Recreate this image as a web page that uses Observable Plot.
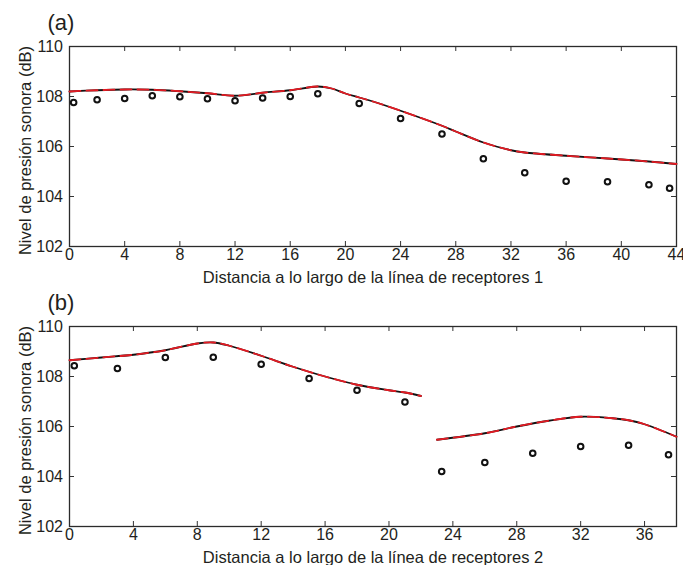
<!DOCTYPE html>
<html>
<head>
<meta charset="utf-8">
<script src="https://cdn.jsdelivr.net/npm/d3@7"></script>
<script src="https://cdn.jsdelivr.net/npm/@observablehq/plot@0.6"></script>
<style>
  body { margin: 0; background: white; }
  #chart { position: relative; width: 683px; height: 565px; background: white; }
  #chart svg { display: block; position: absolute; left: 0; }
</style>
</head>
<body>
<div id="chart"></div>
<script>
// ---- Data ----
const yTicks = [102, 104, 106, 108, 110];
const yLabel = "Nivel de presión sonora (dB)";

// Panel (a)
const xTicksA = [0, 4, 8, 12, 16, 20, 24, 28, 32, 36, 40, 44];
const measXA = [0.3, 2, 4, 6, 8, 10, 12, 14, 16, 18, 21, 24, 27, 30, 33, 36, 39, 42, 43.5];
const measYA = [107.76, 107.87, 107.92, 108.03, 107.99, 107.91, 107.83, 107.94, 108.0, 108.11, 107.72, 107.12, 106.5, 105.51, 104.95, 104.61, 104.59, 104.47, 104.33];
const simXA = [0, 2, 4, 6, 8, 10, 12, 14, 16, 18, 19, 20, 21, 22, 24, 27, 28, 30, 32, 33, 36, 39, 42, 44];
const simYA = [108.2, 108.25, 108.28, 108.27, 108.21, 108.13, 108.03, 108.15, 108.25, 108.4, 108.32, 108.12, 107.96, 107.8, 107.43, 106.83, 106.6, 106.16, 105.85, 105.76, 105.63, 105.52, 105.4, 105.3];

// Panel (b)
const xTicksB = [0, 4, 8, 12, 16, 20, 24, 28, 32, 36];
const measXB = [0.3, 3, 6, 9, 12, 15, 18, 21, 23.3, 26, 29, 32, 35, 37.5];
const measYB = [108.43, 108.32, 108.76, 108.77, 108.49, 107.92, 107.45, 106.98, 104.2, 104.56, 104.93, 105.2, 105.25, 104.87];
const simX1B = [0, 2, 4, 6, 8, 9, 10, 12, 14, 16, 18, 20, 21, 22];
const simY1B = [108.65, 108.76, 108.87, 109.05, 109.32, 109.36, 109.23, 108.83, 108.39, 108.0, 107.67, 107.45, 107.36, 107.22];
const simX2B = [23, 26, 28, 30, 32, 34, 35, 36, 38];
const simY2B = [105.47, 105.73, 106.0, 106.23, 106.39, 106.33, 106.25, 106.09, 105.59];

// ---- Build tables ----
const zip = (xs, ys, seg) => xs.map((x, i) => ({x, y: ys[i], seg}));
const measA = zip(measXA, measYA, 0);
const simA = zip(simXA, simYA, 0);
const measB = zip(measXB, measYB, 0);
const simB = zip(simX1B, simY1B, 1).concat(zip(simX2B, simY2B, 2));

function panel({label, xlab, xDomain, xTicks, meas, sim, H}) {
  const W = 683, mL = 69, mR = 7, mT = 46, mB = H - 246;
  const innerH = H - mT - mB, innerW = W - mL - mR;
  const tk = 5;
  const ink = "#231f20";
  return Plot.plot({
    width: W, height: H,
    marginLeft: mL, marginRight: mR, marginTop: mT, marginBottom: mB,
    style: {fontFamily: "'Liberation Sans', Arial, sans-serif", fontSize: "16px", color: ink, background: "transparent", overflow: "visible"},
    x: {domain: xDomain},
    y: {domain: [102, 110]},
    marks: [
      Plot.axisX({ticks: xTicks, tickSize: 0, tickPadding: 2.5, label: null, fontSize: 16}),
      Plot.axisY({ticks: yTicks, tickSize: 0, tickPadding: 6.5, label: null, fontSize: 16}),
      Plot.ruleX(xTicks, {x: d => d, insetTop: innerH - tk, stroke: "#333"}),
      Plot.ruleX(xTicks, {x: d => d, insetBottom: innerH - tk, stroke: "#333"}),
      Plot.ruleY(yTicks, {y: d => d, insetRight: innerW - tk, stroke: "#333"}),
      Plot.ruleY(yTicks, {y: d => d, insetLeft: innerW - tk, stroke: "#333"}),
      Plot.frame({stroke: "#2b2b2b", strokeWidth: 1.3}),
      Plot.line(sim, {x: "x", y: "y", z: "seg", stroke: "#111", strokeWidth: 1.8, curve: "catmull-rom"}),
      Plot.line(sim, {x: "x", y: "y", z: "seg", stroke: "#e31b23", strokeWidth: 1.8, strokeDasharray: "11,6", curve: "catmull-rom"}),
      Plot.dot(meas, {x: "x", y: "y", r: 2.8, stroke: "#111", strokeWidth: 2, fill: "none"}),
      Plot.text([label], {text: d => d, frameAnchor: "top-left", dx: -22, dy: -23.6, textAnchor: "start", lineAnchor: "middle", fontSize: 22, fill: ink}),
      Plot.text([xlab], {text: d => d, frameAnchor: "bottom", dy: 24.5, textAnchor: "middle", lineAnchor: "top", fontSize: 16.5, fill: ink}),
      Plot.text([yLabel], {text: d => d, frameAnchor: "left", rotate: -90, dx: -43.8, dy: 4, textAnchor: "middle", lineAnchor: "middle", fontSize: 16.5, fill: ink})
    ]
  });
}

const el = document.getElementById("chart");
const a = panel({label: "(a)", xlab: "Distancia a lo largo de la línea de receptores 1", xDomain: [0, 44], xTicks: xTicksA, meas: measA, sim: simA, H: 284});
a.style.top = "0px";
const b = panel({label: "(b)", xlab: "Distancia a lo largo de la línea de receptores 2", xDomain: [0, 38], xTicks: xTicksB, meas: measB, sim: simB, H: 285});
b.style.top = "280px";
el.appendChild(a);
el.appendChild(b);
</script>
</body>
</html>
